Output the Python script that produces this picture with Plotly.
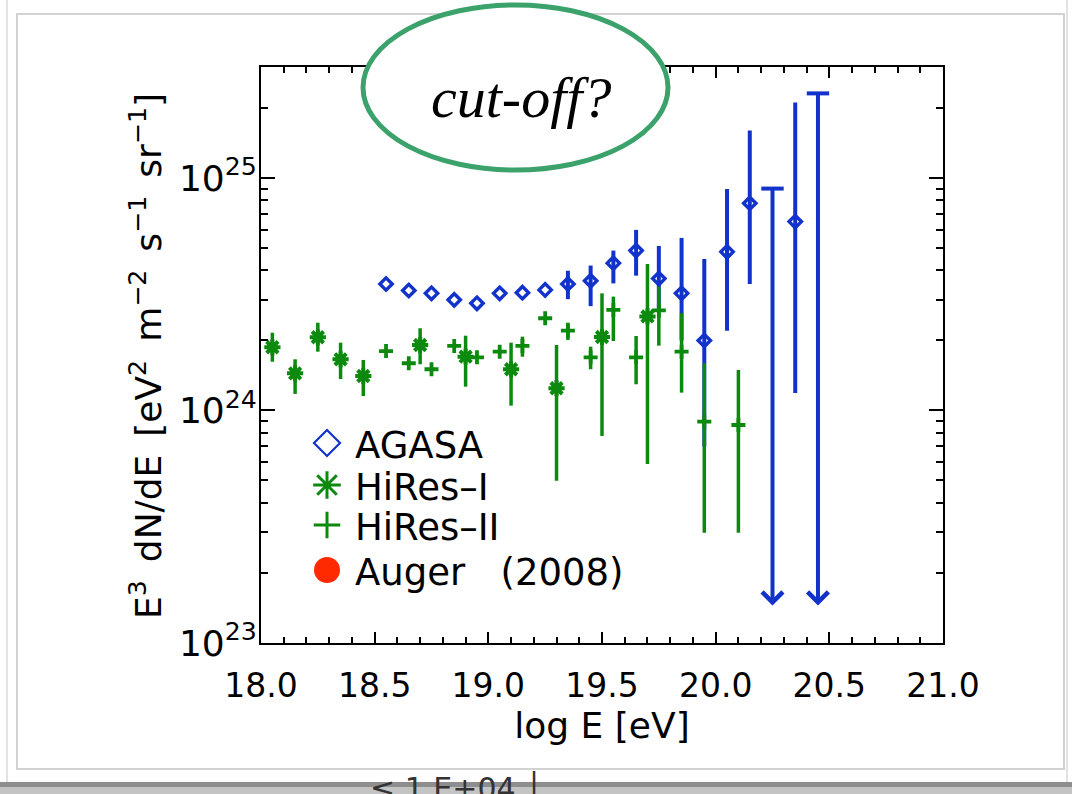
import numpy as np
import plotly.graph_objects as go

# ---------------- data ----------------
agasa_logE = [18.55, 18.65, 18.75, 18.85, 18.95, 19.05, 19.15, 19.25, 19.35, 19.45,
              19.55, 19.65, 19.75, 19.85, 19.95, 20.05, 20.15, 20.35]
agasa_flux = [3.50e24, 3.28e24, 3.19e24, 2.99e24, 2.89e24, 3.19e24, 3.21e24, 3.30e24, 3.50e24, 3.61e24,
              4.30e24, 4.87e24, 3.69e24, 3.19e24, 2.00e24, 4.81e24, 7.78e24, 6.49e24]
agasa_hi = [3.50e24, 3.28e24, 3.19e24, 2.99e24, 2.89e24, 3.19e24, 3.21e24, 3.30e24, 3.99e24, 4.20e24,
            4.87e24, 5.98e24, 5.10e24, 5.52e24, 4.48e24, 8.97e24, 1.60e25, 2.11e25]
agasa_lo = [3.50e24, 3.28e24, 3.19e24, 2.99e24, 2.89e24, 3.19e24, 3.21e24, 3.30e24, 3.01e24, 2.81e24,
            3.52e24, 3.80e24, 2.70e24, 2.00e24, 7.00e23, 2.20e24, 3.50e24, 1.19e24]

agasa_ul_logE = [20.25, 20.45]
agasa_ul_flux = [9.0e24, 2.31e25]
agasa_ul_floor = [1.45e23, 1.45e23]

hires1_logE = [18.05, 18.15, 18.25, 18.35, 18.45, 18.7, 18.9, 19.1, 19.3, 19.5, 19.7]
hires1_flux = [1.87e24, 1.445e24, 2.065e24, 1.66e24, 1.407e24, 1.912e24, 1.703e24, 1.504e24,
               1.246e24, 2.07e24, 2.537e24]
hires1_hi = [2.16e24, 1.66e24, 2.385e24, 1.957e24, 1.649e24, 2.257e24, 2.097e24, 1.957e24,
             1.912e24, 3.19e24, 4.27e24]
hires1_lo = [1.62e24, 1.178e24, 1.79e24, 1.366e24, 1.154e24, 1.58e24, 1.266e24, 1.049e24,
             4.98e23, 7.77e23, 5.89e23]

hires2_logE = [18.55, 18.65, 18.75, 18.85, 18.95, 19.05, 19.15, 19.25, 19.35, 19.45,
               19.55, 19.65, 19.75, 19.85, 19.95, 20.1]
hires2_flux = [1.80e24, 1.596e24, 1.504e24, 1.894e24, 1.693e24, 1.79e24, 1.894e24, 2.492e24,
               2.204e24, 1.693e24, 2.706e24, 1.693e24, 2.692e24, 1.79e24, 8.95e23, 8.66e23]
hires2_hi = [1.80e24, 1.596e24, 1.504e24, 1.894e24, 1.693e24, 1.79e24, 2.077e24, 2.492e24,
             2.385e24, 1.881e24, 3.087e24, 2.091e24, 3.408e24, 2.618e24, 1.596e24, 1.494e24]
hires2_lo = [1.80e24, 1.596e24, 1.504e24, 1.894e24, 1.693e24, 1.79e24, 1.703e24, 2.492e24,
             2.01e24, 1.504e24, 1.99e24, 1.296e24, 1.90e24, 1.193e24, 2.98e23, 2.98e23]

legend_labels = ["AGASA", "HiRes\u2013I", "HiRes\u2013II", "Auger\u00a0\u00a0\u00a0(2008)"]

x_tick_step = 0.5
y_major_ticks = [1e23, 1e24, 1e25]
y_tick_text = ["10<sup>23</sup>", "10<sup>24</sup>", "10<sup>25</sup>"]
y_top = 3.0e25

# ---------------- style ----------------
BLUE = "#1232cc"
GREEN = "#0b8a0e"
RED = "#ff2a00"
ELLIPSE = "#3ca26b"
FONT = "DejaVu Sans"

W, H = 1072, 794
PL, PR, PT, PB = 261, 943, 67, 643


def px(x):
    return (x - PL) / (PR - PL)


def py(y):
    return (PB - y) / (PB - PT)


def errs(v, hi, lo):
    return ([h - f for f, h in zip(v, hi)], [f - l for f, l in zip(v, lo)])


fig = go.Figure()

up, dn = errs(agasa_flux, agasa_hi, agasa_lo)
fig.add_trace(go.Scatter(
    x=agasa_logE, y=agasa_flux, mode="markers", showlegend=False,
    marker=dict(symbol="diamond-open", size=9.5, color=BLUE, line=dict(width=3.4, color=BLUE)),
    error_y=dict(type="data", symmetric=False, array=up, arrayminus=dn,
                 width=0, thickness=4, color=BLUE)))

# upper limits: caps
fig.add_trace(go.Scatter(
    x=agasa_ul_logE, y=agasa_ul_flux, mode="markers", showlegend=False,
    marker=dict(symbol="line-ew", size=16, color=BLUE, line=dict(width=4, color=BLUE))))

up, dn = errs(hires1_flux, hires1_hi, hires1_lo)
fig.add_trace(go.Scatter(
    x=hires1_logE, y=hires1_flux, mode="markers", showlegend=False,
    marker=dict(symbol="asterisk", size=13.5, color=GREEN, line=dict(width=4, color=GREEN)),
    error_y=dict(type="data", symmetric=False, array=up, arrayminus=dn,
                 width=0, thickness=3.5, color=GREEN)))

up, dn = errs(hires2_flux, hires2_hi, hires2_lo)
fig.add_trace(go.Scatter(
    x=hires2_logE, y=hires2_flux, mode="markers", showlegend=False,
    marker=dict(symbol="cross-thin", size=10, color=GREEN, line=dict(width=3.8, color=GREEN)),
    error_y=dict(type="data", symmetric=False, array=up, arrayminus=dn,
                 width=0, thickness=3.5, color=GREEN)))

# upper-limit arrows (annotations in data coordinates)
annotations = []
for xe, top, floor in zip(agasa_ul_logE, agasa_ul_flux, agasa_ul_floor):
    annotations.append(dict(
        x=xe, y=float(np.log10(floor)), xref="x", yref="y",
        ax=xe, ay=float(np.log10(top)), axref="x", ayref="y",
        text="", showarrow=True, arrowhead=4, arrowsize=1.0, arrowwidth=4,
        arrowcolor=BLUE, standoff=0, startstandoff=0))

# ---------------- manual legend (overlay axes in plot-fraction units) ----------------
leg_x = px(327)
leg_rows = [py(443), py(485), py(525), py(570)]
leg_syms = [dict(symbol="diamond-open", size=20, color=BLUE, line=dict(width=2.2, color=BLUE)),
            dict(symbol="asterisk", size=23, color=GREEN, line=dict(width=3, color=GREEN)),
            dict(symbol="cross-thin", size=19, color=GREEN, line=dict(width=3, color=GREEN)),
            dict(symbol="circle", size=26, color=RED, line=dict(width=0))]
for yy, m in zip(leg_rows, leg_syms):
    fig.add_trace(go.Scatter(x=[leg_x], y=[yy], xaxis="x2", yaxis="y2", mode="markers",
                             marker=m, showlegend=False, hoverinfo="skip"))
for yy, lab in zip(leg_rows, legend_labels):
    annotations.append(dict(x=px(353), y=yy - 0.004, xref="paper", yref="paper", text=lab,
                            showarrow=False, xanchor="left", yanchor="middle",
                            font=dict(family=FONT, size=37, color="black")))

# cut-off label
annotations.append(dict(x=px(521), y=py(97), xref="paper", yref="paper",
                        text="cut-off?", showarrow=False, xanchor="center", yanchor="middle",
                        font=dict(family="Liberation Serif", size=58, color="black", style="italic")))

# clipped text of the underlying slide at the bottom edge
annotations.append(dict(x=px(368), y=py(768), xref="paper", yref="paper",
                        text="\u2264 1.E+04 \u2502", showarrow=False, xanchor="left", yanchor="top",
                        font=dict(family=FONT, size=30, color="#333333")))

# y-axis title
annotations.append(dict(x=px(146), y=py(356), xref="paper", yref="paper", textangle=-90,
                        text="E<sup>3</sup>\u2002dN/dE\u2002[eV<sup>2</sup>\u2002m<sup>\u22122</sup>"
                             "\u2002s<sup>\u22121</sup>\u2002sr<sup>\u22121</sup>]",
                        showarrow=False, xanchor="center", yanchor="middle",
                        font=dict(family=FONT, size=36, color="black")))

shapes = [
    # slide card and its shadow (all beneath the plot)
    dict(type="rect", xref="paper", yref="paper", x0=px(7), x1=px(1067), y0=py(786), y1=py(-5),
         line=dict(color="#e2e2e2", width=2), fillcolor="rgba(0,0,0,0)", layer="below"),
    dict(type="rect", xref="paper", yref="paper", x0=px(0), x1=px(1072), y0=py(787), y1=py(782),
         line=dict(width=0), fillcolor="#8e8e8e", layer="below"),
    dict(type="rect", xref="paper", yref="paper", x0=px(0), x1=px(1072), y0=py(794), y1=py(787),
         line=dict(width=0), fillcolor="#c4c4c4", layer="below"),
    dict(type="rect", xref="paper", yref="paper", x0=px(17), x1=px(1064), y0=py(776), y1=py(14),
         line=dict(width=0), fillcolor="white", layer="below"),
    dict(type="line", xref="paper", yref="paper", x0=px(17), x1=px(1064), y0=py(769), y1=py(769),
         line=dict(color="#e6e6e6", width=2), layer="below"),
    dict(type="rect", xref="paper", yref="paper", x0=px(17), x1=px(1064), y0=py(769), y1=py(14),
         line=dict(color="#d2d2d2", width=2), fillcolor="rgba(0,0,0,0)", layer="below"),
    # ellipse (covers the top frame)
    dict(type="circle", xref="paper", yref="paper", x0=px(363), x1=px(668), y0=py(170), y1=py(5),
         line=dict(color=ELLIPSE, width=5), fillcolor="white", layer="above"),
]

minor_y = [m * 10.0 ** e for e in (23, 24, 25) for m in range(2, 10) if m * 10.0 ** e <= y_top * 1.001]

axis_common = dict(showline=True, linewidth=2, linecolor="black", mirror="allticks",
                   showgrid=False, zeroline=False, ticks="inside", tickwidth=2, tickcolor="black")

fig.update_layout(
    width=W, height=H,
    margin=dict(l=PL, r=W - PR, t=PT, b=H - PB),
    paper_bgcolor="white", plot_bgcolor="rgba(0,0,0,0)",
    showlegend=False,
    xaxis=dict(range=[18, 21], tick0=18, dtick=x_tick_step, tickformat=".1f", ticklen=11,
               ticklabelstandoff=12,
               tickfont=dict(family=FONT, size=33, color="black"),
               minor=dict(dtick=0.1, tick0=18, ticks="inside", ticklen=6, tickwidth=2,
                          tickcolor="black", showgrid=False),
               title=dict(text="log E [eV]", font=dict(family=FONT, size=36, color="black"),
                          standoff=8),
               **axis_common),
    yaxis=dict(type="log", range=[23, float(np.log10(y_top))], tickvals=y_major_ticks,
               ticktext=y_tick_text, ticklen=14, ticklabelstandoff=-5,
               tickfont=dict(family=FONT, size=36, color="black"),
               minor=dict(tickvals=minor_y, ticks="inside", ticklen=7, tickwidth=2,
                          tickcolor="black", showgrid=False),
               **axis_common),
    xaxis2=dict(overlaying="x", range=[0, 1], visible=False, anchor="y2"),
    yaxis2=dict(overlaying="y", range=[0, 1], visible=False, anchor="x2"),
    annotations=annotations,
    shapes=shapes,
)

fig.write_html("out.html", config={"displayModeBar": False})
